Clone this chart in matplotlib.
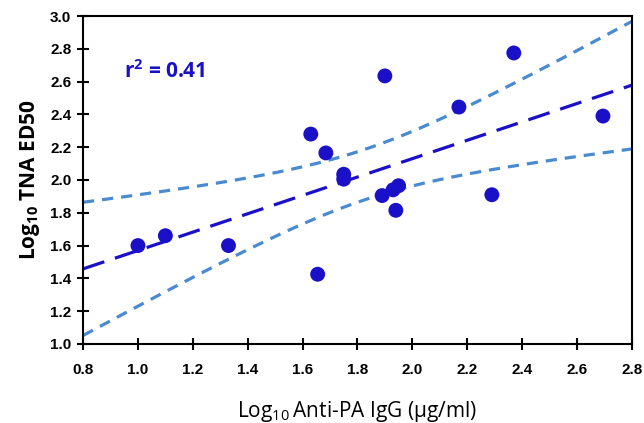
import numpy as np
import matplotlib.pyplot as plt

plt.rcParams["mathtext.fontset"] = "custom"
plt.rcParams["mathtext.rm"] = "Open Sans"
plt.rcParams["mathtext.bf"] = "Open Sans:bold"

# log10 anti-PA IgG vs log10 TNA ED50
igg = [1.00, 1.10, 1.33, 1.63, 1.685, 1.75, 1.75, 1.655, 1.90, 2.17, 2.37, 2.695,
       2.29, 1.89, 1.93, 1.95, 1.94]
ed50 = [1.60, 1.66, 1.60, 2.28, 2.165, 2.035, 2.005, 1.425, 2.635, 2.445, 2.775, 2.39,
        1.91, 1.905, 1.94, 1.965, 1.815]
r2_text = r"r$^\mathbf{2}$ = 0.41"

x = np.array(igg)
y = np.array(ed50)
n = len(x)
slope, icpt = np.polyfit(x, y, 1)
res = y - (slope * x + icpt)
s = np.sqrt(np.sum(res ** 2) / (n - 2))
sxx = np.sum((x - x.mean()) ** 2)
t = 2.131  # t(0.975, 15)
xf = np.linspace(0.8, 2.8, 200)
yf = slope * xf + icpt
half = t * s * np.sqrt(1.0 / n + (xf - x.mean()) ** 2 / sxx)

dark = "#1a10c8"
light = "#4a8ad0"

fig = plt.figure(figsize=(6.44, 4.23), dpi=100)
ax = fig.add_axes([0.129, 0.187, 0.852, 0.775])
ax.plot(xf, yf + half, color=light, lw=2.3, ls=(0, (3.5, 2.5)))
ax.plot(xf, yf - half, color=light, lw=2.3, ls=(0, (3.5, 2.5)))
ax.plot(xf, yf, color=dark, lw=2.3, ls=(0, (7, 3.5)))
ax.scatter(x, y, s=115, color=dark, zorder=3, edgecolors="none")

ax.set_xlim(0.8, 2.8)
ax.set_ylim(1.0, 3.0)
ax.set_xticks(np.arange(0.8, 2.81, 0.2))
ax.set_yticks(np.arange(1.0, 3.01, 0.2))
ax.xaxis.set_major_formatter(plt.FormatStrFormatter("%.1f"))
ax.yaxis.set_major_formatter(plt.FormatStrFormatter("%.1f"))
ax.tick_params(direction="inout", length=9, width=1.5, labelsize=11, pad=9)
ax.tick_params(axis="y", pad=4)
for lbl in ax.get_xticklabels() + ax.get_yticklabels():
    lbl.set_fontweight("bold")
    lbl.set_family("Liberation Sans")
for sp in ax.spines.values():
    sp.set_linewidth(1.5)

ax.text(0.95, 2.62, r2_text, color=dark, fontsize=15, fontweight="bold",
        family="Open Sans")
ax.set_xlabel("Log$_{10}$\u2009Anti-PA IgG (\u00b5g/ml)", fontsize=15, family="Open Sans",
              labelpad=16)
ax.set_ylabel(r"Log$_\mathbf{10}$ TNA ED50", fontsize=15, fontweight="bold",
              family="Open Sans", labelpad=6)

plt.savefig("out.png")
